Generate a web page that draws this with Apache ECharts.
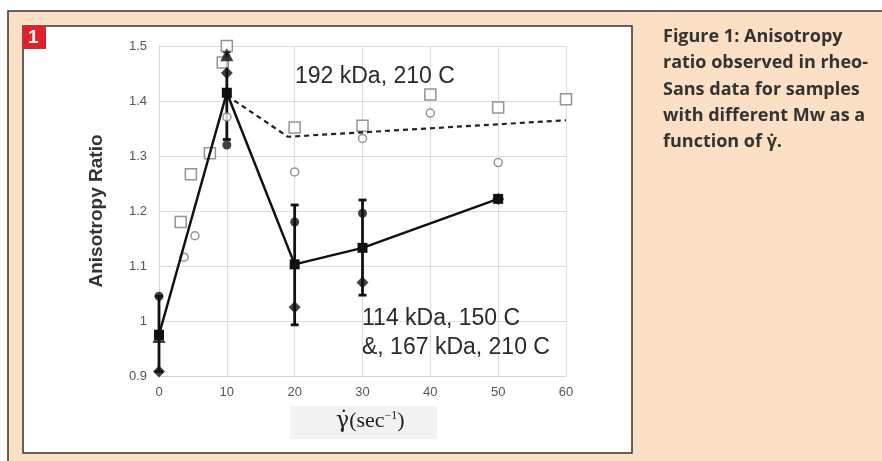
<!DOCTYPE html>
<html>
<head>
<meta charset="utf-8">
<script src="https://cdn.jsdelivr.net/npm/echarts@6/dist/echarts.min.js"></script>
<style>
	html, body { margin: 0; padding: 0; background: #fff; }
	#chart_one { width: 882px; height: 461px; }
</style>
</head>
<body>
<div id="chart_one"></div>
<script>
	/* data - starts */
	var xTicks = [0, 10, 20, 30, 40, 50, 60];
	var yTicks = [0.9, 1, 1.1, 1.2, 1.3, 1.4, 1.5];

	// 114 kDa / 167 kDa averages (solid line)
	var meanPoints = [[0, 0.975], [10, 1.415], [20, 1.103], [30, 1.133], [50, 1.222]];
	var trianglePoints = [[0, 0.972], [10, 1.484]];
	var diamondPoints = [[0, 0.908], [10, 1.451], [20, 1.025], [30, 1.07], [50, 1.222]];
	var dotPoints = [[0, 1.045], [10, 1.32], [20, 1.18], [30, 1.196]];
	// [x, low, high]
	var errorBars = [[0, 0.908, 1.045], [10, 1.33, 1.49], [20, 0.993, 1.211], [30, 1.047, 1.22]];

	// 192 kDa, 210 C (open marks + dashed fit)
	var openSquares = [[3.2, 1.18], [4.7, 1.267], [7.5, 1.305], [9.4, 1.47], [10, 1.5],
		[20, 1.352], [30, 1.355], [40, 1.412], [50, 1.388], [60, 1.403]];
	var openCircles = [[3.7, 1.116], [5.3, 1.155], [10, 1.371], [20, 1.271], [30, 1.332], [40, 1.378], [50, 1.288]];
	var fitLine = [[10, 1.41], [19, 1.335], [60, 1.365]];

	var captionLines = ['Figure 1: Anisotropy', 'ratio observed in rheo-', 'Sans data for samples',
		'with different Mw as a', 'function of \u03b3\u0307.'];
	/* data - ends */

	var chart_one = echarts.init(document.getElementById('chart_one'));

	var captionText = [];
	for (var i = 0; i < captionLines.length; i++) {
		captionText.push({
			type: 'text', left: 663, top: 28 + i * 26.2,
			style: { text: captionLines[i], fill: '#333', font: 'bold 18px "Open Sans"' }
		});
	}

	function renderErrorBar(params, api) {
		var x = api.value(0);
		var lo = api.coord([x, api.value(1)]);
		var hi = api.coord([x, api.value(2)]);
		var w = 4;
		var st = { stroke: '#111', lineWidth: 2.8 };
		return {
			type: 'group',
			children: [
				{ type: 'line', shape: { x1: lo[0], y1: lo[1], x2: hi[0], y2: hi[1] }, style: st },
				{ type: 'line', shape: { x1: lo[0] - w, y1: lo[1], x2: lo[0] + w, y2: lo[1] }, style: st },
				{ type: 'line', shape: { x1: hi[0] - w, y1: hi[1], x2: hi[0] + w, y2: hi[1] }, style: st }
			]
		};
	}

	var option = {
		backgroundColor: '#fff',
		animation: false,
		grid: { left: 159, right: 316, top: 46, bottom: 85 },
		xAxis: {
			type: 'value', min: xTicks[0], max: xTicks[xTicks.length - 1], interval: 10,
			axisLine: { lineStyle: { color: '#cfd4de', width: 1 } },
			axisTick: { show: false },
			axisLabel: { color: '#555', fontSize: 13, fontFamily: 'Liberation Sans', margin: 10 },
			splitLine: { lineStyle: { color: '#d9dde6', width: 1 } }
		},
		yAxis: {
			type: 'value', min: yTicks[0], max: yTicks[yTicks.length - 1], interval: 0.1,
			name: 'Anisotropy Ratio', nameLocation: 'middle', nameRotate: 90, nameGap: 53,
			nameTextStyle: { color: '#333', fontSize: 19, fontWeight: 'bold', fontFamily: 'Liberation Sans' },
			axisLine: { show: true, lineStyle: { color: '#cfd4de', width: 1 } },
			axisTick: { show: false },
			axisLabel: { color: '#555', fontSize: 13, fontFamily: 'Liberation Sans', margin: 12 },
			splitLine: { lineStyle: { color: '#d9dde6', width: 1 } }
		},
		graphic: [
			/* page frame - starts */
			{ type: 'rect', z: -10, shape: { x: 8, y: 11, width: 880, height: 460 },
				style: { fill: '#fce0c6', stroke: '#333', lineWidth: 1.5 } },
			{ type: 'rect', z: -9, shape: { x: 23, y: 26, width: 609, height: 427 },
				style: { fill: '#fff', stroke: '#333', lineWidth: 1.5 } },
			{ type: 'rect', z: 5, shape: { x: 23, y: 26, width: 23, height: 23 }, style: { fill: '#e3202a' } },
			{ type: 'text', z: 6, left: 28, top: 28, style: { text: '1', fill: '#fff', font: 'bold 19px "Liberation Sans"' } },
			/* page frame - ends */
			{ type: 'rect', z: -5, shape: { x: 290, y: 406, width: 147, height: 33 }, style: { fill: '#f2f2f2' } },
			{ type: 'text', left: 336, top: 410,
				style: {
					text: '{g|\u03b3\u0307}(sec{s|\u22121})',
					fill: '#222', font: '22px "Liberation Serif"',
					rich: {
						g: { font: '22px "DejaVu Serif"', fill: '#222' },
						s: { font: '12px "Liberation Serif"', fill: '#222', verticalAlign: 'top', padding: [0, 0, 10, 0] }
					}
				} },
			{ type: 'text', z: 20, left: 295, top: 65, style: { text: '192 kDa, 210 C', fill: '#2a2a2a', font: '23px "Liberation Sans"' } },
			{ type: 'text', z: 20, left: 362, top: 307, style: { text: '114 kDa, 150 C', fill: '#2a2a2a', font: '23px "Liberation Sans"' } },
			{ type: 'text', z: 20, left: 362, top: 336, style: { text: '&, 167 kDa, 210 C', fill: '#2a2a2a', font: '23px "Liberation Sans"' } }
		].concat(captionText),
		series: [
			{
				name: 'open squares', type: 'scatter', data: openSquares,
				symbol: 'rect', symbolSize: 11,
				itemStyle: { color: '#fff', borderColor: '#7a7a7a', borderWidth: 1.5 }
			},
			{
				name: 'open circles', type: 'scatter', data: openCircles,
				symbol: 'circle', symbolSize: 8,
				itemStyle: { color: '#fff', borderColor: '#7a7a7a', borderWidth: 1.5 }
			},
			{
				name: 'fit', type: 'line', data: fitLine, showSymbol: false,
				lineStyle: { color: '#222', width: 2.2, type: [5, 4] }
			},
			{
				name: 'error', type: 'custom', data: errorBars, renderItem: renderErrorBar,
				encode: { x: 0, y: [1, 2] }
			},
			{
				name: 'mean', type: 'line', data: meanPoints,
				symbol: 'rect', symbolSize: 10,
				lineStyle: { color: '#111', width: 2.5 },
				itemStyle: { color: '#111' }
			},
			{
				name: 'dots', type: 'scatter', data: dotPoints, symbol: 'circle', symbolSize: 9,
				itemStyle: { color: '#111' }
			},
			{
				name: 'diamonds', type: 'scatter', data: diamondPoints, symbol: 'diamond', symbolSize: 12,
				itemStyle: { color: '#111' }
			},
			{
				name: 'triangles', type: 'scatter', data: trianglePoints, symbol: 'triangle', symbolSize: 13,
				itemStyle: { color: '#111' }
			}
		]
	};

	chart_one.setOption(option);
</script>
</body>
</html>
